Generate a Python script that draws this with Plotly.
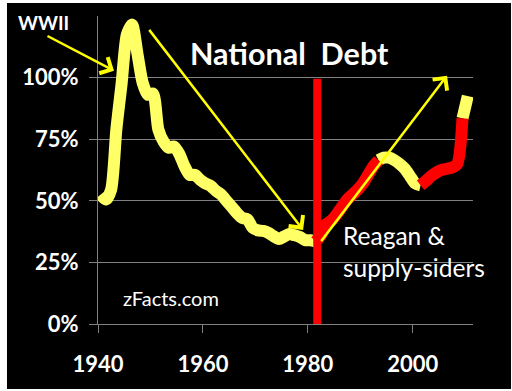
import plotly.graph_objects as go

# ---- data: US national debt, % of GDP ----
years = list(range(1940, 2011))
debt_pct = [52.5, 50.5, 54.5, 79, 97.5, 117.5, 121.5, 110, 98, 93,
            93.5, 79, 74, 71.5, 72, 69, 64, 60.5, 60.5, 58.5,
            57, 56, 54, 52.5, 50, 47.5, 45, 43, 42.5, 39,
            38, 37.8, 37, 35.6, 34.5, 35.5, 36.5, 36, 35.3, 34,
            34, 33.5, 36, 40.5, 42, 44.5, 47.5, 50.5, 52.5, 54.5,
            57, 60.5, 64, 66.5, 67.5, 67.5, 66.5, 65, 63, 60,
            57, 56.3, 58, 60, 61.5, 62.5, 63, 63.5, 65, 83.5,
            92.5]
# colour segments: (start year, end year, colour)
seg_bounds = [1940, 1981, 1993, 2001, 2009, 2010]
seg_colors = ["#FFFF66", "#FF0000", "#FFFF66", "#FF0000", "#FFFF66"]
x_ticks = [1940, 1960, 1980, 2000]
y_ticks = [0, 25, 50, 75, 100]
y_labels = ["0%", "25%", "50%", "75%", "100%"]
reagan_year = 1981.8

WHITE = "#FFFFFF"
GRID = "#808080"
ARROW = "#FFFF00"

fig = go.Figure()
order = [0, 2, 4, 1, 3]
for i in order:
    a, b = seg_bounds[i], seg_bounds[i + 1]
    xs = [y + 0.5 for y in years if a <= y <= b]
    ys = [v for y, v in zip(years, debt_pct) if a <= y <= b]
    fig.add_trace(go.Scatter(x=xs, y=ys, mode="lines",
                             line=dict(color=seg_colors[i], width=12,
                                       shape="spline", smoothing=0.7),
                             hoverinfo="skip", showlegend=False))

# white frame around the black chart
fig.add_shape(type="rect", xref="paper", yref="paper",
              x0=-0.2427, x1=1.1013, y0=-0.211, y1=1.0422,
              fillcolor="black", line=dict(width=0), layer="below")

# red vertical line at Reagan
fig.add_shape(type="line", xref="x", yref="y", x0=reagan_year, x1=reagan_year,
              y0=-0.9, y1=99.5, line=dict(color="#FF0000", width=8), layer="above")

font_b = "Lato"
annots = [
    dict(text="<b>National  Debt</b>", x=0.2387, y=0.879, xanchor="left", yanchor="middle",
         font=dict(size=30.5, color=WHITE, family=font_b)),
    dict(text="<b>WWII</b>", x=-0.22, y=0.978, xanchor="left", yanchor="middle",
         font=dict(size=19, color=WHITE, family=font_b)),
    dict(text="zFacts.com", x=0.195, y=0.084, xanchor="center", yanchor="middle",
         font=dict(size=20, color=WHITE, family=font_b)),
    dict(text="Reagan &<br>supply-siders", x=0.6467, y=0.235, xanchor="left", yanchor="middle",
         align="left", font=dict(size=24.5, color=WHITE, family=font_b)),
]
for a in annots:
    fig.add_annotation(xref="paper", yref="paper", showarrow=False, **a)

# arrows (tip in data coords, tail offset in pixels)
arrows = [
    dict(x=1943.05, y=102.8, ax=-68, ay=-35.5),
    dict(x=1979.1, y=38.2, ax=-155, ay=-201.5),
    dict(x=2006.55, y=100.8, ax=-127, ay=167),
]
for a in arrows:
    fig.add_annotation(xref="x", yref="y", text="", showarrow=True,
                       arrowhead=4, arrowsize=1.4, arrowwidth=2.5,
                       arrowcolor=ARROW, standoff=0, **a)

fig.update_layout(
    width=512, height=391,
    margin=dict(l=98, r=39, t=16, b=67),
    paper_bgcolor="white", plot_bgcolor="black",
    showlegend=False,
    xaxis=dict(range=[1940, 2011.5], tickvals=x_ticks, ticktext=[str(t) for t in x_ticks],
               showgrid=False, zeroline=False, showline=True, linecolor=GRID, linewidth=1,
               ticks="outside", ticklen=8, tickcolor=GRID, tickwidth=1,
               ticklabelstandoff=13,
               tickfont=dict(family=font_b, size=22, color=WHITE, weight="bold")),
    yaxis=dict(range=[0, 125], tickvals=y_ticks, ticktext=y_labels,
               showgrid=True, gridcolor=GRID, gridwidth=1, zeroline=False,
               showline=True, linecolor=GRID, linewidth=1,
               ticks="outside", ticklen=8, tickcolor=GRID, tickwidth=1,
               ticklabelstandoff=6,
               tickfont=dict(family=font_b, size=22, color=WHITE, weight="bold")),
)

fig.write_html("out.html", config={"displayModeBar": False},
               post_script="document.body.style.margin='0';document.body.style.overflow='hidden';")
